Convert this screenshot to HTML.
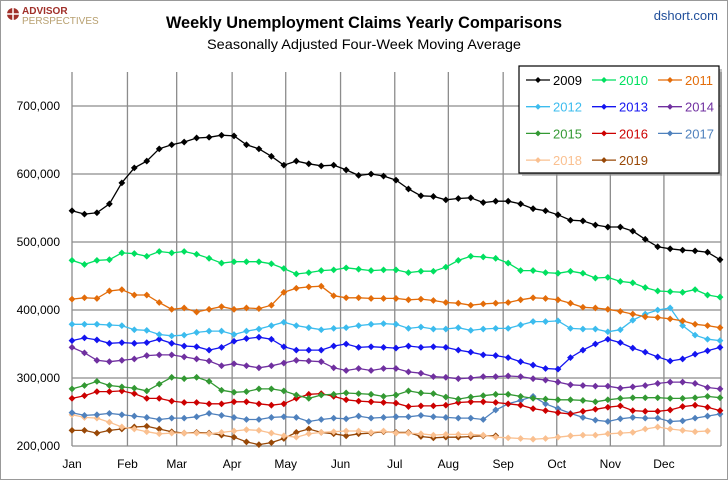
<!DOCTYPE html>
<html><head><meta charset="utf-8"><style>
html,body{margin:0;padding:0;background:#fff}
svg{display:block;font-family:"Liberation Sans",sans-serif}
</style></head><body>
<svg id="chart" width="728" height="480" viewBox="0 0 728 480" xmlns="http://www.w3.org/2000/svg">
<rect x="0.5" y="0.5" width="727" height="479" fill="#fff" stroke="#999"/>
<g>
<circle cx="13" cy="14" r="6" fill="#a0302a"/><path d="M13 7v14M6 14h14" stroke="#fff" stroke-width="1.5"/>
<text x="22" y="14" font-size="10" font-weight="bold" fill="#a0302a">ADVISOR</text>
<text x="22" y="24" font-size="10" fill="#b8a070">PERSPECTIVES</text>
</g>
<text x="718" y="20" font-size="13" fill="#1f4e9a" text-anchor="end">dshort.com</text>
<text x="364" y="28" font-size="17" font-weight="bold" text-anchor="middle" textLength="396" lengthAdjust="spacingAndGlyphs">Weekly Unemployment Claims Yearly Comparisons</text>
<text x="364" y="49" font-size="14" text-anchor="middle" textLength="314" lengthAdjust="spacingAndGlyphs">Seasonally Adjusted Four-Week Moving Average</text>
<g id="grid"></g><g id="series"></g>
<g id="legend"></g>
</svg>
<script>
const years=['2009','2010','2011','2012','2013','2014','2015','2016','2017','2018','2019'];
const colors=['#000000','#00e060','#e36c09','#3cbcee','#1414f0','#7030a0','#339933','#cc0000','#4f81bd','#fac090','#984807'];
const months=['Jan','Feb','Mar','Apr','May','Jun','Jul','Aug','Sep','Oct','Nov','Dec'];
const monthWeek=[0,4.45,8.4,12.85,17.15,21.55,25.9,30.2,34.6,38.9,43.2,47.5];
const yTicks=[200000,300000,400000,500000,600000,700000];
const s2009=[546,541,543,556,587,609,619,637,643,647,653,654,657,656,643,637,626,613,619,615,612,613,606,598,600,597,591,578,568,567,562,564,565,558,560,560,556,549,546,540,532,531,525,522,522,516,504,493,490,488,487,485,474];
const s2010=[473,467,473,474,484,483,479,486,484,486,482,476,469,471,471,471,468,461,453,455,458,459,462,460,458,459,459,455,457,457,463,473,479,478,476,469,458,458,455,454,457,454,447,448,442,440,433,428,427,426,430,422,419];
const s2011=[416,418,417,428,430,422,422,411,401,403,397,401,405,401,403,402,407,426,432,434,435,421,418,418,417,417,417,415,416,414,411,410,407,409,410,411,415,418,417,415,410,404,403,401,398,394,390,389,387,384,379,377,374];
const s2012=[379,379,379,378,377,371,370,364,362,363,367,369,369,364,369,372,377,382,377,374,371,373,374,377,379,380,379,373,375,372,372,374,370,372,373,373,378,383,383,384,373,372,372,368,371,385,394,400,403,377,363,357,355];
const s2013=[355,359,356,351,352,351,352,357,351,347,346,341,345,354,358,360,357,346,341,341,341,347,350,345,346,345,344,347,345,346,345,341,338,334,333,330,324,319,314,313,330,341,350,357,352,344,338,331,325,328,335,340,345];
const s2014=[345,337,326,324,326,328,333,334,334,331,328,325,318,321,318,315,318,322,326,325,324,315,311,314,311,314,314,309,307,302,301,299,300,302,302,303,302,299,297,294,290,289,288,288,285,287,289,292,294,294,292,286,284];
const s2015=[284,289,295,289,287,285,281,291,301,299,301,295,282,279,280,284,284,281,275,270,275,276,278,277,276,273,275,281,278,277,272,269,272,274,276,276,273,270,269,268,268,267,265,268,270,271,271,271,270,270,271,273,271];
const s2016=[270,274,280,280,281,277,270,270,266,264,264,262,262,265,265,262,260,262,270,276,277,273,268,266,265,264,263,258,259,259,260,264,265,265,264,262,260,255,252,249,247,251,254,257,259,252,251,251,253,258,260,257,252];
const s2017=[249,245,246,248,246,244,242,239,241,241,243,248,245,242,239,239,242,243,242,236,239,241,240,244,241,242,243,243,245,243,242,241,241,239,253,262,267,273,262,255,248,242,238,236,240,242,241,241,236,237,241,244,247];
const s2018=[246,242,241,235,228,225,221,218,219,219,219,218,220,222,224,223,219,215,213,218,220,221,222,222,220,222,219,219,218,216,217,217,217,216,213,212,211,210,211,213,215,216,216,218,219,220,225,228,225,223,221,222];
const s2019=[223,223,219,223,225,228,229,225,221,219,220,219,216,213,206,202,205,211,220,225,220,218,215,218,219,221,220,220,214,212,213,213,214,215,215];
const seriesData=[s2009,s2010,s2011,s2012,s2013,s2014,s2015,s2016,s2017,s2018,s2019];

const NS='http://www.w3.org/2000/svg';
const X0=72,X1=720,Y0=446,YT=72,VMIN=200,VMAX=750;
function xs(i){return X0+i*(X1-X0)/52;}
function ys(v){return Y0-(v-VMIN)/(VMAX-VMIN)*(Y0-YT);}
function mk(tag,attrs,parent){const e=document.createElementNS(NS,tag);for(const k in attrs)e.setAttribute(k,attrs[k]);parent.appendChild(e);return e;}
const grid=document.getElementById('grid');
yTicks.forEach(t=>{
  const y=ys(t/1000);
  const l=mk('line',{x1:X0,x2:721,y1:y,y2:y,stroke:'#8c8c8c','stroke-width':1.3},grid);
  
  
  const tx=mk('text',{x:60,y:y+4,'font-size':12,'text-anchor':'end',fill:'#000'},grid);
  tx.textContent=t.toLocaleString('en-US');
  
  
});
months.forEach((m,k)=>{
  const x=xs(monthWeek[k]);
  const l=mk('line',{x1:x,x2:x,y1:YT,y2:Y0,stroke:'#8c8c8c','stroke-width':1.3},grid);
  
  
  const tx=mk('text',{x:x,y:468,'font-size':12,'text-anchor':'middle'},grid);
  tx.textContent=m;
  
  
});
const rb=mk('line',{x1:721,x2:721,y1:YT,y2:Y0,stroke:'#8c8c8c','stroke-width':1.3},grid);


const sg=document.getElementById('series');
function diamond(x,y,r){return `M${x} ${y-r}L${x+r} ${y}L${x} ${y+r}L${x-r} ${y}Z`;}
for(let s=seriesData.length-1;s>=0;s--){
  const g=mk('g',{},sg);
  
  
  const d=seriesData[s];
  const pts=d.map((v,i)=>xs(i).toFixed(1)+','+ys(v).toFixed(1)).join(' ');
  const pl=mk('polyline',{points:pts,fill:'none',stroke:colors[s],'stroke-width':1.3},g);
  
  
  let p='';d.forEach((v,i)=>{p+=diamond(xs(i),ys(v),3.4);});
  const m=mk('path',{d:p,fill:colors[s]},g);
  
  
}
const lg=document.getElementById('legend');
mk('rect',{x:522,y:69,width:200,height:107,fill:'#888',opacity:0.5},lg);
const box=mk('rect',{x:519,y:66,width:200,height:107,fill:'#fff',stroke:'#000','stroke-width':1.2},lg);


years.forEach((yr,s)=>{
  const col=s%3,row=Math.floor(s/3);
  const lx=[526,592,658][col],ly=80+row*26.7;
  const g=mk('g',{},lg);
  
  
  mk('line',{x1:lx,x2:lx+24,y1:ly,y2:ly,stroke:colors[s],'stroke-width':1.3},g);
  mk('path',{d:diamond(lx+12,ly,3),fill:colors[s]},g);
  const t=mk('text',{x:lx+27,y:ly+5,'font-size':13,fill:colors[s]},g);
  t.textContent=yr;
});
</script>
</body></html>
